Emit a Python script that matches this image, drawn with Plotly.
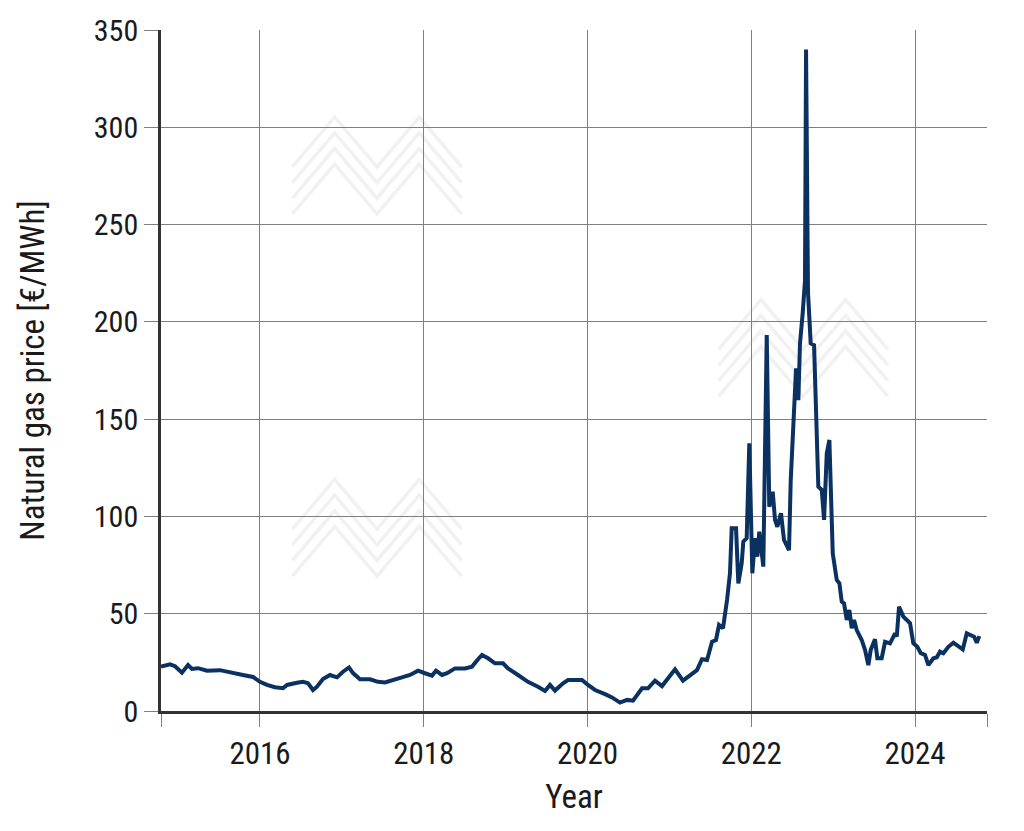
import plotly.graph_objects as go

years = [
    2014.791, 2014.901, 2014.962, 2015.047, 2015.121, 2015.169, 2015.243, 2015.353, 2015.511, 2015.658,
    2015.792, 2015.915, 2016.000, 2016.085, 2016.183, 2016.281, 2016.330, 2016.452, 2016.525, 2016.586,
    2016.647, 2016.696, 2016.769, 2016.855, 2016.940, 2017.014, 2017.087, 2017.136, 2017.221, 2017.344,
    2017.441, 2017.527, 2017.612, 2017.734, 2017.832, 2017.930, 2018.015, 2018.101, 2018.150, 2018.223,
    2018.284, 2018.382, 2018.504, 2018.589, 2018.663, 2018.711, 2018.785, 2018.870, 2018.968, 2019.029,
    2019.151, 2019.273, 2019.395, 2019.481, 2019.542, 2019.603, 2019.701, 2019.762, 2019.847, 2019.933,
    2020.006, 2020.092, 2020.214, 2020.299, 2020.397, 2020.483, 2020.556, 2020.666, 2020.739, 2020.824,
    2020.910, 2020.983, 2021.069, 2021.166, 2021.252, 2021.337, 2021.398, 2021.460, 2021.521, 2021.569,
    2021.606, 2021.655, 2021.704, 2021.740, 2021.761, 2021.814, 2021.842, 2021.883, 2021.903, 2021.944,
    2021.976, 2022.013, 2022.046, 2022.074, 2022.098, 2022.147, 2022.189, 2022.220, 2022.262, 2022.290,
    2022.318, 2022.363, 2022.400, 2022.433, 2022.461, 2022.482, 2022.514, 2022.547, 2022.575, 2022.595,
    2022.628, 2022.656, 2022.669, 2022.693, 2022.726, 2022.767, 2022.819, 2022.861, 2022.889, 2022.922,
    2022.954, 2022.995, 2023.044, 2023.076, 2023.105, 2023.133, 2023.166, 2023.198, 2023.227, 2023.255,
    2023.288, 2023.349, 2023.389, 2023.430, 2023.459, 2023.511, 2023.540, 2023.593, 2023.634, 2023.695,
    2023.756, 2023.777, 2023.805, 2023.857, 2023.899, 2023.939, 2023.979, 2024.028, 2024.070, 2024.122,
    2024.163, 2024.224, 2024.266, 2024.305, 2024.346, 2024.407, 2024.468, 2024.529, 2024.583, 2024.632,
    2024.672, 2024.721, 2024.754, 2024.785,
]

# Natural gas price in EUR/MWh
prices = [
    22.8, 24.0, 23.0, 19.7, 23.6, 21.6, 22.0, 20.7, 21.0, 19.5,
    18.5, 17.5, 15.0, 13.4, 12.2, 11.7, 13.4, 14.5, 15.0, 14.3,
    10.8, 12.5, 16.4, 18.5, 17.3, 20.2, 22.4, 19.5, 16.3, 16.3,
    15.0, 14.7, 15.6, 17.3, 18.5, 20.7, 19.4, 18.2, 20.7, 18.5,
    19.4, 21.9, 21.9, 22.8, 26.6, 28.8, 27.1, 24.5, 24.5, 21.9,
    18.5, 15.0, 12.5, 10.3, 13.4, 10.5, 14.2, 15.9, 15.9, 15.9,
    13.4, 10.8, 8.7, 7.0, 4.3, 5.7, 5.3, 11.7, 11.7, 15.6,
    12.8, 16.8, 21.4, 15.6, 18.5, 21.0, 26.6, 26.2, 35.6, 36.5,
    44.2, 42.5, 57.0, 70.8, 93.9, 93.9, 65.6, 75.9, 87.0, 88.8,
    137.6, 70.8, 88.8, 79.3, 92.2, 74.2, 193.2, 105.0, 112.7, 98.2,
    94.7, 101.6, 87.9, 84.4, 82.7, 118.7, 147.9, 176.1, 159.8, 189.0,
    204.4, 221.0, 340.0, 215.0, 189.0, 188.0, 115.3, 113.6, 98.2, 132.4,
    139.3, 81.0, 67.3, 65.6, 56.2, 55.3, 46.8, 51.9, 42.5, 46.8,
    41.6, 36.5, 31.4, 23.6, 31.4, 36.9, 27.1, 27.1, 35.6, 34.8,
    39.9, 38.2, 53.6, 48.5, 46.8, 45.1, 34.8, 33.0, 29.7, 28.8,
    23.6, 27.1, 27.6, 30.5, 29.7, 33.0, 35.1, 33.0, 31.7, 39.9,
    39.0, 38.2, 35.1, 38.5,
]

x_range = [2014.791, 2024.879]
x_tickvals = [2014.791, 2016, 2018, 2020, 2022, 2024, 2024.879]
x_ticktext = ["", "2016", "2018", "2020", "2022", "2024", ""]
y_tickvals = [0, 50, 100, 150, 200, 250, 300, 350]

FONT = "Roboto Condensed, Liberation Sans, sans-serif"
TXT = "#1a1a1a"

fig = go.Figure()
fig.add_trace(go.Scatter(
    x=years, y=prices, mode="lines",
    line=dict(color="#0a3160", width=4),
    showlegend=False, hoverinfo="skip",
))

# Faint background watermark logos (decoration, placed in paper fractions)
def watermark(x0, y0):
    # x0, y0: top-left corner as paper fractions; logo ~0.205 wide, ~0.145 tall
    w, h, step = 0.205, 0.073, 0.023
    shapes = []
    for k in range(4):
        top = y0 - k * step
        xs = [x0, x0 + w * 0.25, x0 + w * 0.5, x0 + w * 0.75, x0 + w]
        ys = [top - h, top, top - h, top, top - h]
        path = "M " + " L ".join(f"{a:.4f},{b:.4f}" for a, b in zip(xs, ys))
        shapes.append(dict(type="path", path=path, xref="paper", yref="paper",
                           line=dict(color="#f1f1f1", width=3.5), layer="below"))
    return shapes

logo_shapes = watermark(0.159, 0.872) + watermark(0.675, 0.604) + watermark(0.159, 0.340)

fig.update_layout(
    width=1024, height=831,
    margin=dict(l=161, r=37, t=30, b=120),
    paper_bgcolor="white", plot_bgcolor="white",
    font=dict(family=FONT, size=30, color=TXT),
    shapes=logo_shapes,
)

fig.update_xaxes(
    range=x_range, tickmode="array", tickvals=x_tickvals, ticktext=x_ticktext,
    showgrid=True, gridcolor="#7f7f7f", gridwidth=1,
    showline=True, linecolor="#333333", linewidth=2.5,
    ticks="outside", ticklen=13, tickcolor="#7f7f7f", tickwidth=1,
    ticklabelstandoff=0,
    tickfont=dict(size=31, color=TXT),
    zeroline=False,
    title=dict(text="Year", font=dict(size=33, color=TXT), standoff=14),
)
fig.update_yaxes(
    range=[0, 350], tickmode="array", tickvals=y_tickvals,
    showgrid=True, gridcolor="#7f7f7f", gridwidth=1,
    showline=True, linecolor="#333333", linewidth=2.5,
    ticks="outside", ticklen=14, tickcolor="#7f7f7f", tickwidth=1,
    tickfont=dict(size=30, color=TXT),
    zeroline=False,
    title=dict(text="Natural gas price [€/MWh]", font=dict(size=33, color=TXT), standoff=40),
)

fig.write_html("out.html")
